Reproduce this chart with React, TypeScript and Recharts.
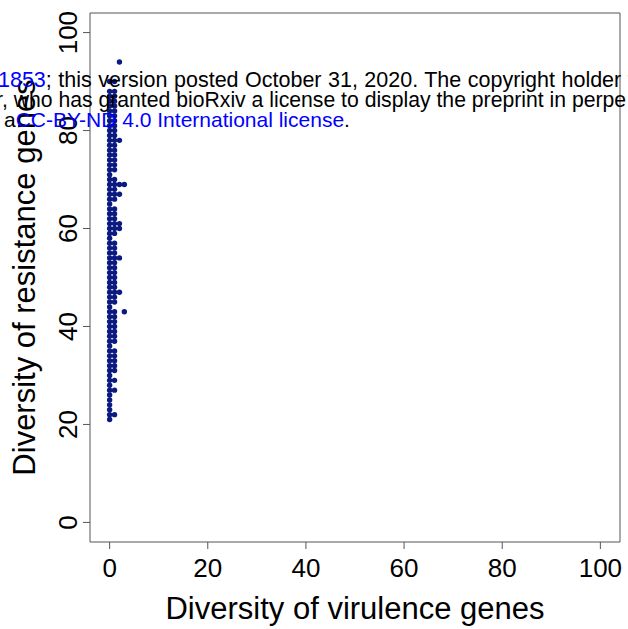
import { ScatterChart, Scatter, XAxis, YAxis, ReferenceArea } from 'recharts'

const FONT = '"Liberation Sans", Arial, Helvetica, sans-serif'
const DOT = '#0a1a80'
const FRAME = '#555555'
const LINK = '#0000ff'

const W = 628
const H = 629

const axisTicks = [0, 20, 40, 60, 80, 100]

// resistance diversity of isolates with no virulence genes
const resistanceAtVir0 = [
  21, 22, 23, 24, 25, 26, 27, 28, 29, 30, 31, 32, 33, 34, 35, 36, 37, 38, 39, 40,
  41, 42, 43, 44, 45, 46, 47, 48, 49, 50, 51, 52, 53, 54, 55, 56, 57, 58, 59, 60,
  61, 62, 63, 64, 65, 66, 67, 68, 69, 70, 71, 72, 73, 74, 75, 76, 77, 78, 79, 80,
  81, 82, 83, 84, 85, 86, 87, 88, 90,
]

// resistance diversity of isolates with one virulence gene
const resistanceAtVir1 = [
  22, 27, 29, 31, 32, 33, 34, 35, 37, 38, 39, 40, 41, 42, 43, 45, 46, 47, 48, 49,
  50, 51, 52, 53, 54, 55, 56, 57, 59, 60, 61, 62, 63, 64, 66, 67, 68, 69, 70, 72,
  73, 74, 75, 76, 77, 78, 79, 80, 81, 82, 83, 84, 85, 86, 87, 88, 90,
]

// the few isolates with two or three virulence genes
const otherVirulence = [2, 2, 2, 3, 2, 2, 2, 2, 2, 3]
const otherResistance = [94, 78, 69, 69, 67, 61, 60, 54, 47, 43]

const points = [
  ...resistanceAtVir0.map((r) => ({ virulence: 0, resistance: r })),
  ...resistanceAtVir1.map((r) => ({ virulence: 1, resistance: r })),
  ...otherVirulence.map((v, i) => ({ virulence: v, resistance: otherResistance[i] })),
]

const Dot = (p: any) => <circle cx={p.cx} cy={p.cy} r={2.7} fill={DOT} />

const RotatedTick = ({ x, y, payload }: any) => (
  <text
    x={x}
    y={y}
    transform={`rotate(-90, ${x}, ${y})`}
    textAnchor="middle"
    fontSize={26}
    fontFamily={FONT}
    fill="#000"
  >
    {payload.value}
  </text>
)

const YTitle = ({ viewBox }: any) => {
  const cx = 35
  const cy = viewBox.y + viewBox.height / 2
  return (
    <text x={cx} y={cy} transform={`rotate(-90, ${cx}, ${cy})`} textAnchor="middle" fontSize={31} fontFamily={FONT} fill="#000">
      Diversity of resistance genes
    </text>
  )
}

const XTitle = ({ viewBox }: any) => (
  <text x={viewBox.x + viewBox.width / 2} y={619} textAnchor="middle" fontSize={31} fontFamily={FONT} fill="#000">
    Diversity of virulence genes
  </text>
)

// preprint stamp printed across the top of the page
const Stamp = () => (
  <svg width={W} height={H} style={{ position: 'absolute', left: 0, top: 0, pointerEvents: 'none' }}>
    <g fontFamily={FONT} fill="#000">
      <text x={-2} y={87} fontSize={21.5} wordSpacing={0.5}>
        <tspan fill={LINK}>1853</tspan>
        <tspan>; this version posted October 31, 2020. The copyright holder fo</tspan>
      </text>
      <text x={-4} y={107} fontSize={21.2}>r, who has granted bioRxiv a license to display the preprint in perpe</text>
      <text x={4} y={127} fontSize={21}>
        <tspan>a</tspan>
        <tspan fill={LINK}>CC-BY-ND 4.0 International license</tspan>
        <tspan>.</tspan>
      </text>
    </g>
  </svg>
)

export default function App() {
  return (
    <div style={{ position: 'absolute', left: 0, top: 0, width: W, height: H, background: '#fff' }}>
      <ScatterChart width={W} height={H} margin={{ top: 13, right: 8, bottom: 0, left: 0 }}>
        <XAxis
          type="number"
          dataKey="virulence"
          domain={[-4, 104]}
          ticks={axisTicks}
          allowDataOverflow
          height={87}
          axisLine={false}
          tickLine={{ stroke: FRAME }}
          tickSize={7}
          tickMargin={10}
          tick={{ fontSize: 26, fontFamily: FONT, fill: '#000' }}
          label={{ content: <XTitle /> }}
        />
        <YAxis
          type="number"
          dataKey="resistance"
          domain={[-4, 104]}
          ticks={axisTicks}
          allowDataOverflow
          width={90}
          axisLine={false}
          tickLine={{ stroke: FRAME }}
          tickSize={7}
          tickMargin={6}
          tick={<RotatedTick />}
          label={{ content: <YTitle /> }}
        />
        <ReferenceArea x1={-4} x2={104} y1={-4} y2={104} fill="none" stroke={FRAME} strokeWidth={1} />
        <Scatter data={points} shape={Dot} isAnimationActive={false} />
      </ScatterChart>
      <Stamp />
    </div>
  )
}
